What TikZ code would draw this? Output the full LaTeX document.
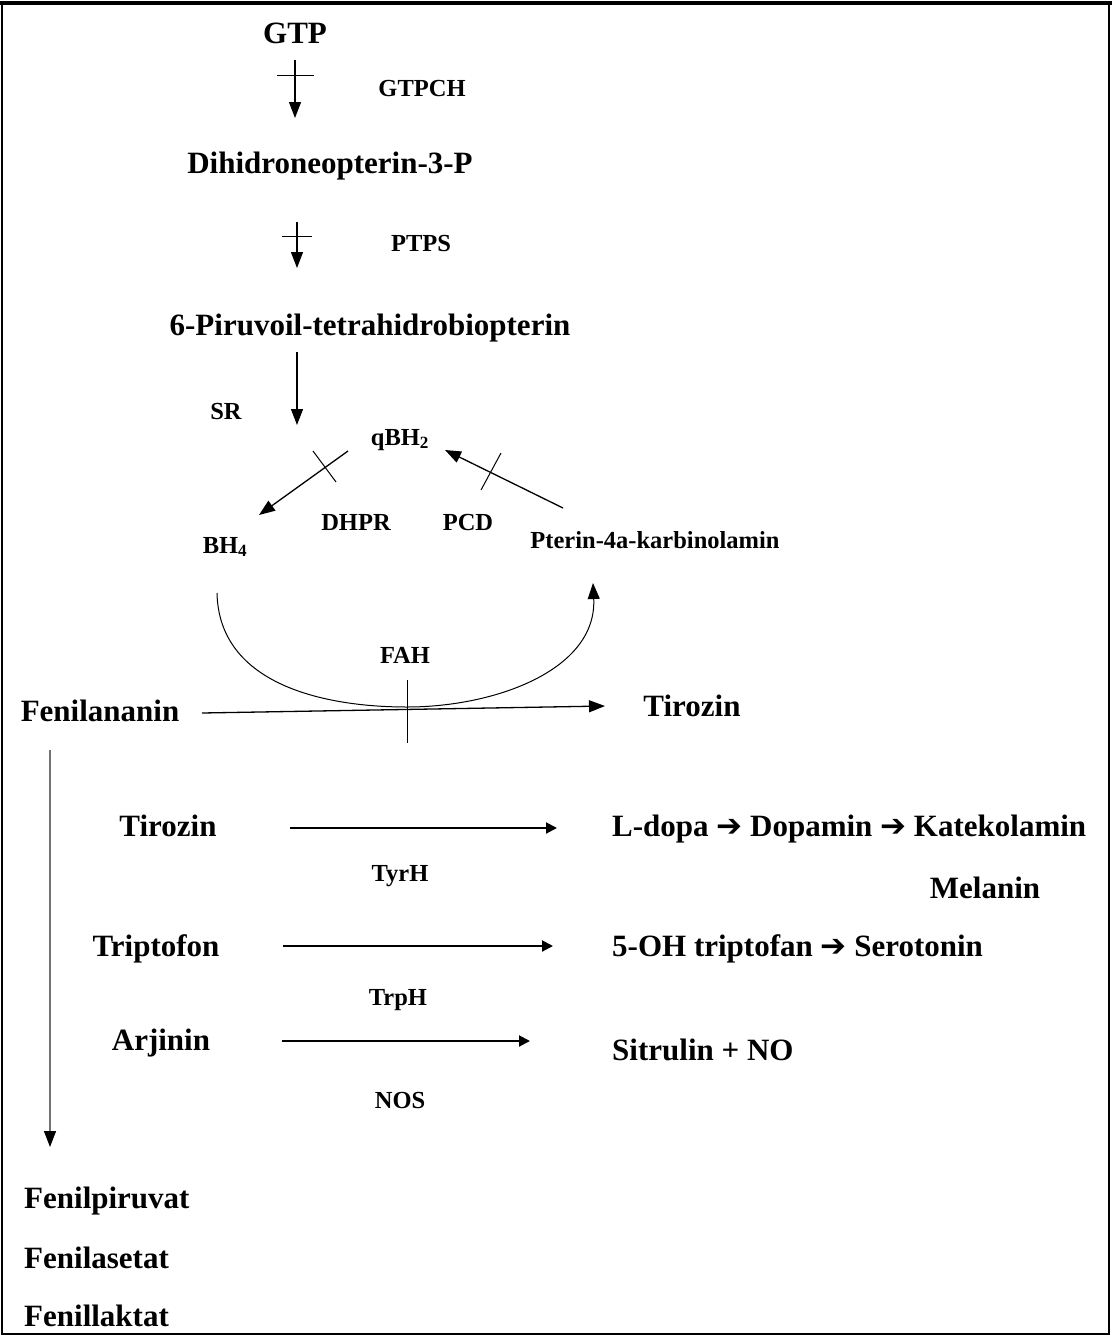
\documentclass[tikz,border=0pt]{standalone}
\usepackage{fontspec}
\setmainfont{Liberation Serif}
\newfontfamily\arrowfont{DejaVu Sans}
\usetikzlibrary{calc,positioning,arrows.meta}
\newcommand{\thento}{{\arrowfont\bfseries ➔}}

\begin{document}
\begin{tikzpicture}[x=1pt, y=-1pt,
                    metab/.style={font=\fontsize{31}{37}\selectfont\bfseries, inner sep=0pt, text height=20.5pt, text depth=0pt},
                    enzyme/.style={font=\fontsize{24.5}{29}\selectfont\bfseries, inner sep=0pt, text height=16pt, text depth=0pt},
                    reac/.style={-{Triangle[width=12pt,length=16pt]}, line width=1.3pt},
                    conv/.style={-{Triangle[width=11pt,length=11pt]}, line width=2pt},
                    block/.style={line width=1pt},
                ]
                    \useasboundingbox (0,0) rectangle (1112,1336);
                    \draw[line width=2.5pt] (2,3) rectangle (1109,1334);
                    \draw[line width=4.5pt] (0,3) -- (1112,3);

                    \node[metab] (gtp) at (295,33) {GTP};
                    \node[enzyme] (gtpch) at (422,88) {GTPCH};
                    \node[metab] (dhnp) at (330,163) {Dihidroneopterin-3-P};
                    \node[enzyme] (ptps) at (421,243) {PTPS};
                    \node[metab] (ptp) at (370,325) {6-Piruvoil-tetrahidrobiopterin};
                    \node[enzyme] (sr) at (226,411) {SR};
                    \node[enzyme] (qbh) at (400,437) {qBH\textsubscript{2}};
                    \node[enzyme] (bh4) at (225,545) {BH\textsubscript{4}};
                    \node[enzyme] (dhpr) at (356,522) {DHPR};
                    \node[enzyme] (pcd) at (468,522) {PCD};
                    \node[enzyme] (pterin) at (655,540) {Pterin-4a-karbinolamin};
                    \node[enzyme] (fah) at (405,655) {FAH};
                    \node[metab] (phe) at (100,711) {Fenilananin};
                    \node[metab] (tyr) at (692,706) {Tirozin};

                    \node[metab] (tyr2) at (168,826) {Tirozin};
                    \node[metab, anchor=west] (dopa) at (612,826) {L-dopa \thento{} Dopamin \thento{} Katekolamin};
                    \node[enzyme] (tyrh) at (400,873) {TyrH};
                    \node[metab] (mel) at (985,888) {Melanin};
                    \node[metab] (trp) at (156,946) {Triptofon};
                    \node[metab, anchor=west] (sero) at (612,946) {5-OH triptofan \thento{} Serotonin};
                    \node[enzyme] (trph) at (398,997) {TrpH};
                    \node[metab] (arg) at (161,1040) {Arjinin};
                    \node[metab, anchor=west] (cit) at (612,1050) {Sitrulin + NO};
                    \node[enzyme] (nos) at (400,1100) {NOS};

                    \node[metab, anchor=west] (ppy) at (24,1198) {Fenilpiruvat};
                    \node[metab, anchor=west] (pac) at (24,1258) {Fenilasetat};
                    \node[metab, anchor=west] (plac) at (24,1316) {Fenillaktat};

                    \draw[reac] ($(gtp)+(0,27)$) -- ($(gtp |- dhnp)+(0,-45)$);
                    \draw[block] ($(gtp)+(-18,42)$) -- ($(gtp)+(19,42)$);
                    \draw[reac] ($(gtp |- dhnp)+(2,59)$) -- ($(gtp |- ptp)+(2,-57)$);
                    \draw[block] ($(gtp |- dhnp)+(-13,73)$) -- ($(gtp |- dhnp)+(17,73)$);
                    \draw[reac] ($(gtp |- ptp)+(2,27)$) -- ($(gtp |- qbh)+(2,-12)$);

                    \draw[reac] ($(qbh)+(-52,14)$) -- ($(bh4)+(34,-30)$);
                    \draw[block] ($(qbh)+(-87,14)$) -- ($(qbh)+(-64,45)$);
                    \draw[reac] ($(pterin)+(-92,-32)$) -- ($(qbh)+(45,13)$);
                    \draw[block] ($(qbh)+(101,16)$) -- ($(qbh)+(81,53)$);

                    \draw[reac, line width=1pt] ($(bh4)+(-8,48)$) .. controls ($(bh4)+(-6,140)$) and ($(fah)+(-80,52)$) .. ($(fah)+(2,52)$)
                        .. controls ($(fah)+(90,52)$) and ($(pterin)+(-58,130)$) .. ($(pterin)+(-62,43)$);
                    \draw[reac] ($(phe)+(102,2)$) -- ($(tyr)+(-87,0)$);
                    \draw[block] ($(fah)+(2,25)$) -- ($(fah)+(2,88)$);
                    \draw[reac, draw=black!55, -{Triangle[width=12pt,length=16pt,color=black]}] ($(phe)+(-50,39)$) -- ($(ppy.west)+(26,-51)$);

                    \draw[conv] ($(tyr2)+(122,2)$) -- ($(dopa.west)+(-55,2)$);
                    \draw[conv] ($(trp)+(127,0)$) -- ($(sero.west)+(-59,0)$);
                    \draw[conv] ($(arg)+(121,1)$) -- ($(cit.west)+(-82,-9)$);
                \end{tikzpicture}
\end{document}
